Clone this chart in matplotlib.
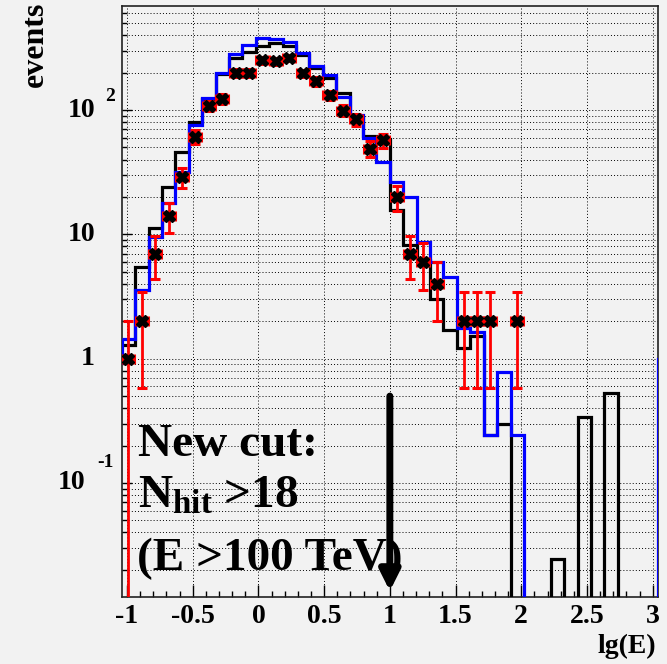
import numpy as np
import matplotlib
matplotlib.use('Agg')
import matplotlib.pyplot as plt
from matplotlib.ticker import MultipleLocator, LogLocator, NullFormatter, FuncFormatter
from matplotlib.transforms import offset_copy

plt.rcParams['font.family'] = ['Liberation Serif', 'DejaVu Serif']
plt.rcParams['font.weight'] = 'bold'
plt.rcParams['axes.unicode_minus'] = False
plt.rcParams['mathtext.fontset'] = 'custom'
plt.rcParams['mathtext.rm'] = 'Liberation Serif:bold'
plt.rcParams['mathtext.bf'] = 'Liberation Serif:bold'
plt.rcParams['mathtext.it'] = 'Liberation Serif:bold:italic'

# 40 bins of lg(E) between -1.04 and 3.04
edges = np.linspace(-1.04, 3.04, 41)
centers = 0.5 * (edges[:-1] + edges[1:])
half_bin = 0.5 * (edges[1] - edges[0])

# black histogram
mc_black = [1.3, 5.5, 11.3, 24, 46, 80, 122, 195, 261, 291,
            327, 348, 325, 277, 216, 181, 136, 88, 62, 58,
            15.6, 8.2, 6.2, 3.0, 1.7, 1.21, 1.52, 0.243, 0.297, 0,
            0, 0, 0.0243, 0, 0.337, 0, 0.526, 0, 0, 0]
# blue histogram (+ overflow bin)
mc_blue = [1.45, 3.6, 9.5, 17.8, 32, 76, 126, 200, 281, 333,
           377, 370, 355, 290, 227, 191, 128, 92, 60, 38,
           26.4, 19.8, 8.7, 6.0, 4.55, 1.75, 1.65, 0.243, 0.785, 0.243,
           0, 0, 0, 0, 0, 0, 0, 0, 0, 0]
blue_overflow = 1.0
# data counts
data = [1, 2, 7, 14, 29, 61, 108, 123, 200, 200,
        251, 246, 262, 197, 170, 132, 99, 84, 49, 57,
        20, 7, 6, 4, 0, 2, 2, 2, 0, 2,
        0, 0, 0, 0, 0, 0, 0, 0, 0, 0]

cut_lgE = 1.0
floor = 1e-5

W, H = 667, 664
bg = '#f2f2f2'
fig = plt.figure(figsize=(W / 100, H / 100), dpi=100, facecolor=bg)
ax = fig.add_axes([121.7 / W, 1 - 597 / H, 536.3 / W, 591 / H])
ax.set_facecolor(bg)
ax.set_yscale('log')
ax.set_xlim(-1.04, 3.04)
ax.set_ylim(0.0121, 687)

ax.stairs(np.clip(mc_black, floor, None), edges, baseline=None,
          color='black', lw=2.3, zorder=3)
blue_vals = np.clip(np.append(mc_blue, blue_overflow), floor, None)
blue_edges = np.append(edges, edges[-1] + 2 * half_bin)
ax.stairs(blue_vals, blue_edges, baseline=None, color='#0000ff', lw=2.3, zorder=4)
ax.vlines(edges[0], 0.9, mc_blue[0], color='#0000ff', lw=2.3, zorder=4)

d = np.array(data, dtype=float)
m = d > 0
ax.errorbar(centers[m], d[m], xerr=half_bin * 0.9, yerr=np.sqrt(d[m]), fmt='none',
            ecolor='red', elinewidth=2, capsize=3.6, capthick=2.2, zorder=5)
ax.plot(centers[m], d[m], 'X', color='black', ms=8, mec='black', zorder=6)

# cut arrow
ax.annotate('', xy=(cut_lgE, 0.0135), xytext=(cut_lgE, 0.50),
            arrowprops=dict(arrowstyle='-|>,head_length=0.6,head_width=0.3',
                            mutation_scale=20, lw=5, color='black',
                            shrinkA=0, shrinkB=0), zorder=7)

# axes, ticks, grid
ax.xaxis.set_major_locator(MultipleLocator(0.5))
ax.xaxis.set_minor_locator(MultipleLocator(0.1))
ax.xaxis.set_major_formatter(FuncFormatter(lambda v, p: '%g' % v))
ax.yaxis.set_major_locator(LogLocator(base=10))
ax.yaxis.set_minor_locator(LogLocator(base=10, subs=np.arange(2, 10)))
ax.yaxis.set_minor_formatter(NullFormatter())
ax.tick_params(axis='x', which='major', direction='in', length=8.6, width=1,
               labelsize=20, pad=5, top=False)
ax.tick_params(axis='x', which='minor', direction='in', length=4, width=1, top=False)
ax.tick_params(axis='y', which='major', direction='in', length=7.2, width=1,
               labelleft=False, right=False)
ax.tick_params(axis='y', which='minor', direction='in', length=3.6, width=1, right=False)
for s in ax.spines.values():
    s.set_linewidth(1.2)
    s.set_color('#222222')

grid_kw = dict(color='black', lw=0.7, ls=(0, (1, 2.2)))
ax.grid(True, which='major', axis='x', **grid_kw)
ax.grid(True, which='both', axis='y', **grid_kw)
ax.set_axisbelow(True)

# y tick labels as "10 ^n"
ytr = ax.get_yaxis_transform()
ysup = offset_copy(ytr, fig=fig, y=14, units='dots')
ax.text(-0.0498, 100, '10', transform=ytr, ha='right', va='center', fontsize=20)
ax.text(-0.031, 100, '2', transform=ysup, ha='left', va='center', fontsize=14)
ax.text(-0.0498, 10, '10', transform=ytr, ha='right', va='center', fontsize=20)
ax.text(-0.0498, 1, '1', transform=ytr, ha='right', va='center', fontsize=20)
ax.text(-0.0684, 0.1, '10', transform=ytr, ha='right', va='center', fontsize=20)
ax.text(-0.046, 0.1, '-1', transform=offset_copy(ytr, fig=fig, y=20, units='dots'),
        ha='left', va='center', fontsize=14)

fig.text(656 / W, 1 - 646 / H, 'lg(E)', ha='right', va='center', fontsize=20)
fig.text(35 / W, 1 - 2 / H, 'events', rotation=90, ha='center', va='top', fontsize=23)

fig.text(138 / W, 1 - 456 / H, 'New cut:', fontsize=34, va='baseline')
fig.text(138 / W, 1 - 508 / H, r'N$_{\rm hit}$ >18', fontsize=34, va='baseline')
fig.text(137 / W, 1 - 570 / H, '(E >100 TeV)', fontsize=34, va='baseline')

fig.savefig('out.png', dpi=100, facecolor=bg)
